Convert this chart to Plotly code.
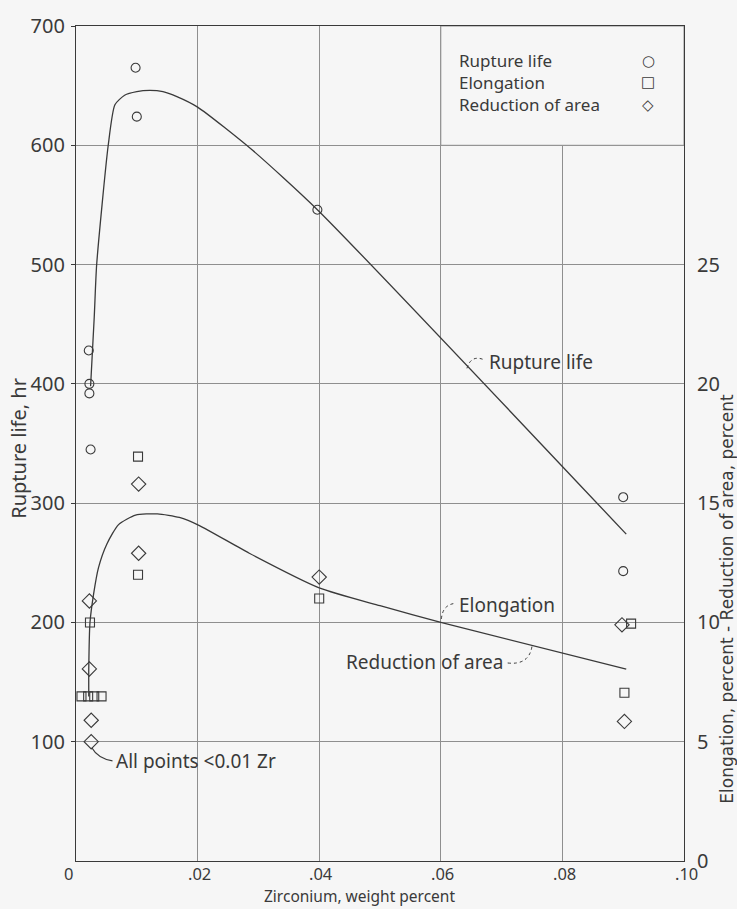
import plotly.graph_objects as go

# ---------------- data ----------------
# Rupture life points (hr)
rup_x = [0.0021, 0.0022, 0.0022, 0.0024, 0.0098, 0.0100, 0.0397, 0.0900, 0.0900]
rup_y = [428, 400, 392, 345, 665, 624, 546, 305, 243]

# Elongation points (percent)
elo_x = [0.0009, 0.0020, 0.0030, 0.0042, 0.0023, 0.0102, 0.0102, 0.0400, 0.0913, 0.0902]
elo_y = [6.9, 6.9, 6.9, 6.9, 10.0, 16.95, 12.0, 11.0, 9.95, 7.05]

# Reduction of area points (percent)
roa_x = [0.0022, 0.0022, 0.0025, 0.0025, 0.0103, 0.0103, 0.0400, 0.0898, 0.0902]
roa_y = [10.9, 8.05, 5.9, 5.0, 15.8, 12.9, 11.9, 9.9, 5.85]

# Faired curves
rup_curve_x = [0.0024, 0.0030, 0.0034, 0.0053, 0.0064, 0.0080, 0.0100, 0.0121,
               0.0143, 0.0165, 0.0200, 0.0290, 0.0397, 0.0905]
rup_curve_y = [398, 456, 500, 600, 634, 642, 645, 646, 645, 641, 632, 596, 546, 274]

elo_curve_x = [0.0021, 0.0021, 0.0023, 0.0029, 0.0037, 0.0051, 0.0070, 0.0098,
               0.0134, 0.0170, 0.0203, 0.0285, 0.0400, 0.0500, 0.0600, 0.0905]
elo_curve_y = [6.9, 8.05, 10.0, 11.2, 12.3, 13.3, 14.1, 14.5,
               14.55, 14.4, 14.06, 12.9, 11.45, 10.7, 10.0, 8.04]

x_ticks = [0, 0.02, 0.04, 0.06, 0.08, 0.10]
x_ticktext = ["0", ".02", ".04", ".06", ".08", ".10"]
y_ticks = [100, 200, 300, 400, 500, 600, 700]
y2_ticks = [0, 5, 10, 15, 20, 25]

legend_labels = ["Rupture life", "Elongation", "Reduction of area"]
legend_symbols = ["\u25cb", "\u25a1", "\u25c7"]

# ---------------- style ----------------
BG = "#f6f6f6"
INK = "#3a3a3a"
GRID = "#8f8f8f"
FONT = "Noto Sans"

fig = go.Figure()

fig.add_trace(go.Scatter(x=rup_curve_x, y=rup_curve_y, mode="lines",
                         line=dict(color=INK, width=1.3, shape="spline", smoothing=0.6),
                         hoverinfo="skip", showlegend=False))
fig.add_trace(go.Scatter(x=elo_curve_x, y=elo_curve_y, mode="lines", yaxis="y2",
                         line=dict(color=INK, width=1.3, shape="spline", smoothing=0.6),
                         hoverinfo="skip", showlegend=False))

mk_line = dict(color=INK, width=1.1)
fig.add_trace(go.Scatter(x=rup_x, y=rup_y, mode="markers", name="Rupture life",
                         marker=dict(symbol="circle-open", size=9, line=mk_line, color=INK),
                         showlegend=False))
fig.add_trace(go.Scatter(x=elo_x, y=elo_y, mode="markers", name="Elongation", yaxis="y2",
                         marker=dict(symbol="square-open", size=9, line=mk_line, color=INK),
                         showlegend=False))
fig.add_trace(go.Scatter(x=roa_x, y=roa_y, mode="markers", name="Reduction of area", yaxis="y2",
                         marker=dict(symbol="diamond-open", size=11, line=mk_line, color=INK),
                         showlegend=False))

# legend box region (gridlines masked)
fig.add_shape(type="rect", xref="x", yref="y", x0=0.06, x1=0.10, y0=600, y1=700,
              fillcolor=BG, line=dict(color=GRID, width=1), layer="between")

# leader lines
fig.add_shape(type="path", xref="x", yref="y",
              path="M 0.0643,413 Q 0.0650,425 0.0672,420",
              line=dict(color=INK, width=1, dash="dot"))
fig.add_shape(type="path", xref="x", yref="y",
              path="M 0.0601,203 Q 0.0603,215 0.0624,216",
              line=dict(color=INK, width=1, dash="dot"))
fig.add_shape(type="path", xref="x", yref="y",
              path="M 0.0710,166 Q 0.0745,164 0.0750,180",
              line=dict(color=INK, width=1, dash="dot"))
fig.add_shape(type="path", xref="x", yref="y",
              path="M 0.0026,95 Q 0.0036,86 0.0060,84",
              line=dict(color=INK, width=1.2))

annots = []
tf = dict(family=FONT, size=19, color=INK)
annots.append(dict(x=0.0676, y=418, xref="x", yref="y", text="Rupture life",
                   showarrow=False, xanchor="left", yanchor="middle", font=tf))
annots.append(dict(x=0.0626, y=215, xref="x", yref="y", text="Elongation",
                   showarrow=False, xanchor="left", yanchor="middle", font=tf))
annots.append(dict(x=0.0708, y=167, xref="x", yref="y", text="Reduction of area",
                   showarrow=False, xanchor="right", yanchor="middle", font=tf))
annots.append(dict(x=0.0062, y=84, xref="x", yref="y", text="All points &lt;0.01 Zr",
                   showarrow=False, xanchor="left", yanchor="middle", font=tf))

# custom legend
leg_font = dict(family=FONT, size=17, color=INK)
leg_y = [0.9586, 0.9326, 0.9054]
for lab, sym, yy in zip(legend_labels, legend_symbols, leg_y):
    annots.append(dict(x=0.6266, y=yy, xref="paper", yref="paper", text=lab,
                       showarrow=False, xanchor="left", yanchor="middle", font=leg_font))
    annots.append(dict(x=0.9408, y=yy, xref="paper", yref="paper", text=sym,
                       showarrow=False, xanchor="center", yanchor="middle",
                       font=dict(family="DejaVu Sans", size=15, color=INK)))

# x tick labels (as annotations to control their vertical placement)
for tv, tt in zip(x_ticks, x_ticktext):
    annots.append(dict(x=tv, y=0, xref="x", yref="paper", text=tt, showarrow=False,
                       xanchor="center", yanchor="top", yshift=0, borderpad=0,
                       xshift=(-8 if tv == 0 else 2),
                       font=dict(family=FONT, size=16.5, color=INK)))

# axis titles
annots.append(dict(x=-0.095, y=0.494, xref="paper", yref="paper", text="Rupture life, hr",
                   textangle=-90, showarrow=False, xanchor="center", yanchor="middle",
                   font=dict(family=FONT, size=20, color=INK)))
annots.append(dict(x=1.0705, y=0.314, xref="paper", yref="paper",
                   text="Elongation, percent - Reduction of area, percent",
                   textangle=-90, showarrow=False, xanchor="center", yanchor="middle",
                   font=dict(family="DejaVu Sans", size=17, color=INK)))
annots.append(dict(x=0.467, y=-0.0565, xref="paper", yref="paper", text="Zirconium, weight percent",
                   showarrow=False, xanchor="center", yanchor="bottom", borderpad=0,
                   font=dict(family=FONT, size=15.5, color=INK)))

fig.update_layout(
    width=737, height=909,
    margin=dict(l=76, r=53, t=20, b=48),
    paper_bgcolor=BG, plot_bgcolor=BG,
    showlegend=False,
    font=dict(family=FONT, color=INK),
    annotations=annots,
    xaxis=dict(range=[0, 0.10], tickvals=x_ticks, showticklabels=False,
               showgrid=True, gridcolor=GRID, gridwidth=1, zeroline=False,
               showline=True, linecolor=INK, linewidth=1.2, mirror=True,
               ticks=""),
    yaxis=dict(range=[0, 700], tickvals=y_ticks,
               showgrid=True, gridcolor=GRID, gridwidth=1, zeroline=False,
               showline=True, linecolor=INK, linewidth=1.2, mirror=True,
               ticks="outside", ticklen=4, tickcolor=INK, ticklabelstandoff=2,
               tickfont=dict(family=FONT, size=20, color=INK)),
    yaxis2=dict(range=[0, 35], tickvals=y2_ticks, overlaying="y", side="right",
                showgrid=False, zeroline=False, showline=False,
                ticks="", ticklabelstandoff=12,
                tickfont=dict(family=FONT, size=20, color=INK)),
)

fig.write_html("out.html")
